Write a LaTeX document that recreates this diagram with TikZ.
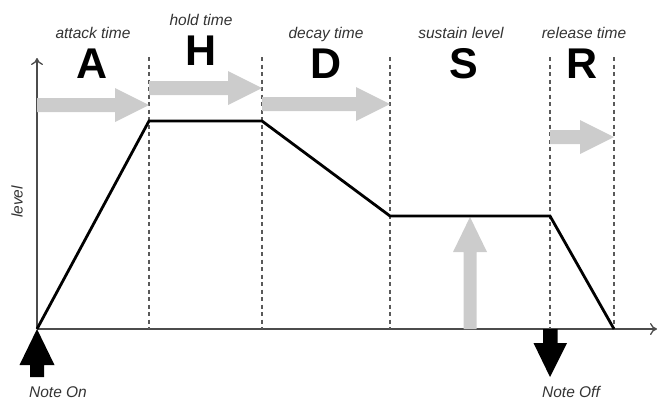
\documentclass[tikz,border=0pt]{standalone}
\usepackage{fontspec}
\setmainfont{Liberation Sans}
\usetikzlibrary{arrows.meta}
\begin{document}
\begin{tikzpicture}[x=1pt,y=-1pt,
  axisline/.style={draw=black!70,line width=1.3pt},
  guide/.style={draw=black!65,line width=1.2pt,dash pattern=on 4pt off 3.5pt},
  envelope/.style={draw=black,line width=2.8pt,line join=miter},
  grayblock/.style={fill=black!20,draw=none},
  noteblock/.style={fill=black,draw=none},
  small/.style={font=\fontsize{15.5}{16}\selectfont\itshape,text=black!80,anchor=base,inner sep=0pt},
  big/.style={font=\fontsize{43}{44}\selectfont\bfseries,text=black,anchor=base,inner sep=0pt}]
\useasboundingbox (0,0) rectangle (658,400);

% axes
\coordinate (O) at (37,329);
\coordinate (ytop) at (37,58);
\coordinate (xend) at (657,329);
\draw[axisline,-{To[length=7pt,width=12pt]}] (O) -- (ytop);
\draw[axisline,-{To[length=7pt,width=12pt]}] (O) -- (xend);

% phase boundaries
\foreach \x/\n in {149/g1,262/g2,390/g3,550/g4,614/g5}{
  \coordinate (\n t) at (\x,57);
  \coordinate (\n b) at (\x,329);
  \draw[guide] (\n t) -- (\n b);
}

% gray block arrows: right-pointing (x1,x2,y)
\newcommand\rightblock[3]{%
  \fill[grayblock] (#1,#3-7) -- (#2-34,#3-7) -- (#2-34,#3-17) -- (#2,#3)
    -- (#2-34,#3+17) -- (#2-34,#3+7) -- (#1,#3+7) -- cycle;}
\rightblock{37}{149}{105}
\rightblock{149}{262}{88}
\rightblock{262}{390}{104}
\rightblock{550}{614}{137}
% sustain arrow pointing up
\fill[grayblock] (463.5,329) -- (463.5,252) -- (453,252) -- (470,217)
  -- (487,252) -- (476.5,252) -- (476.5,329) -- cycle;

% envelope
\coordinate (p0) at (37,329);
\coordinate (p1) at (149,121);
\coordinate (p2) at (262,121);
\coordinate (p3) at (390,216);
\coordinate (p4) at (550,216);
\coordinate (p5) at (614,329);
\draw[envelope] (p0) -- (p1) -- (p2) -- (p3) -- (p4) -- (p5);

% note on / note off markers
\fill[noteblock] (37,329) -- (54.5,365) -- (44,365) -- (44,377) -- (30,377)
  -- (30,365) -- (19.5,365) -- cycle;
\fill[noteblock] (543,329) -- (557.5,329) -- (557.5,343) -- (567,343)
  -- (550,377) -- (533.5,343) -- (543,343) -- cycle;

% labels
\node[small] (la) at (93,38) {attack time};
\node[small] (lh) at (201,25) {hold time};
\node[small] (ld) at (326,38) {decay time};
\node[small] (ls) at (461,38) {sustain level};
\node[small] (lr) at (584,38) {release time};
\node[big] (A) at (92,78) {A};
\node[big] (H) at (201,65) {H};
\node[big] (D) at (326,78) {D};
\node[big] (S) at (464,78) {S};
\node[big] (R) at (582,78) {R};
\node[small,anchor=center,rotate=90] (lvl) at (17,202) {level};
\node[small] (non) at (58,397) {Note On};
\node[small] (noff) at (571,397) {Note Off};
\end{tikzpicture}
\end{document}
